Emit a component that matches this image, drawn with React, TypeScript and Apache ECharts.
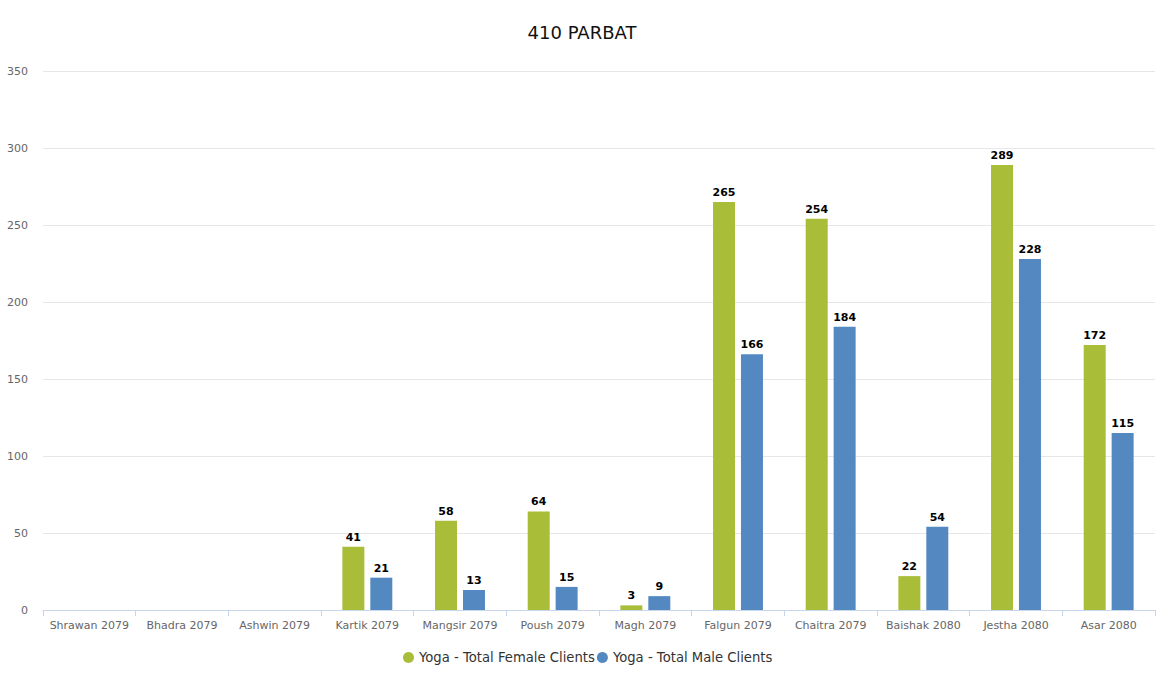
import React, { useEffect, useRef } from "react";
import * as echarts from "echarts";

const categories = [
  "Shrawan 2079",
  "Bhadra 2079",
  "Ashwin 2079",
  "Kartik 2079",
  "Mangsir 2079",
  "Poush 2079",
  "Magh 2079",
  "Falgun 2079",
  "Chaitra 2079",
  "Baishak 2080",
  "Jestha 2080",
  "Asar 2080",
];
const femaleValues: (number | null)[] = [null, null, null, 41, 58, 64, 3, 265, 254, 22, 289, 172];
const maleValues: (number | null)[] = [null, null, null, 21, 13, 15, 9, 166, 184, 54, 228, 115];
const seriesNames = ["Yoga - Total Female Clients", "Yoga - Total Male Clients"];

export default function App() {
  const ref = useRef<HTMLDivElement>(null);
  useEffect(() => {
    document.body.style.margin = "0";
    if (!ref.current) return;
    const chart = echarts.init(ref.current, null, { renderer: "svg" });
    const font = "DejaVu Sans";
    const label = {
      show: true,
      position: "top" as const,
      distance: 4,
      color: "#000",
      fontWeight: "bold" as const,
      fontSize: 11,
      fontFamily: font,
    };
    chart.setOption({
      animation: false,
      textStyle: { fontFamily: font },
      title: {
        text: "410 PARBAT",
        left: "center",
        top: 18,
        textStyle: { fontSize: 18, fontWeight: "normal", color: "#111", fontFamily: font },
      },
      legend: {
        bottom: 16,
        left: 398,
        icon: "circle",
        itemWidth: 11,
        itemHeight: 11,
        itemGap: 2,
        textStyle: { fontSize: 13.2, color: "#333", fontFamily: font },
        data: seriesNames,
      },
      grid: { left: 43, right: 9, top: 71, bottom: 75 },
      xAxis: {
        type: "category",
        data: categories,
        axisLine: { lineStyle: { color: "#c7d6e9" } },
        axisTick: { show: true, length: 6, lineStyle: { color: "#c7d6e9" } },
        axisLabel: { color: "#666", fontSize: 11, margin: 10, fontFamily: font, interval: 0 },
      },
      yAxis: {
        type: "value",
        min: 0,
        max: 350,
        interval: 50,
        axisLine: { show: false },
        axisTick: { show: false },
        axisLabel: { color: "#666", fontSize: 11, margin: 15, fontFamily: font },
        splitLine: { lineStyle: { color: "#e6e6e6" } },
      },
      series: [
        {
          name: seriesNames[0],
          type: "bar",
          data: femaleValues,
          barWidth: 22,
          barGap: "27%",
          itemStyle: { color: "#a9bd38" },
          label,
        },
        {
          name: seriesNames[1],
          type: "bar",
          data: maleValues,
          barWidth: 22,
          barGap: "27%",
          itemStyle: { color: "#5389c0" },
          label,
        },
      ],
    });
    return () => chart.dispose();
  }, []);
  return <div ref={ref} style={{ width: 1164, height: 685 }} />;
}
